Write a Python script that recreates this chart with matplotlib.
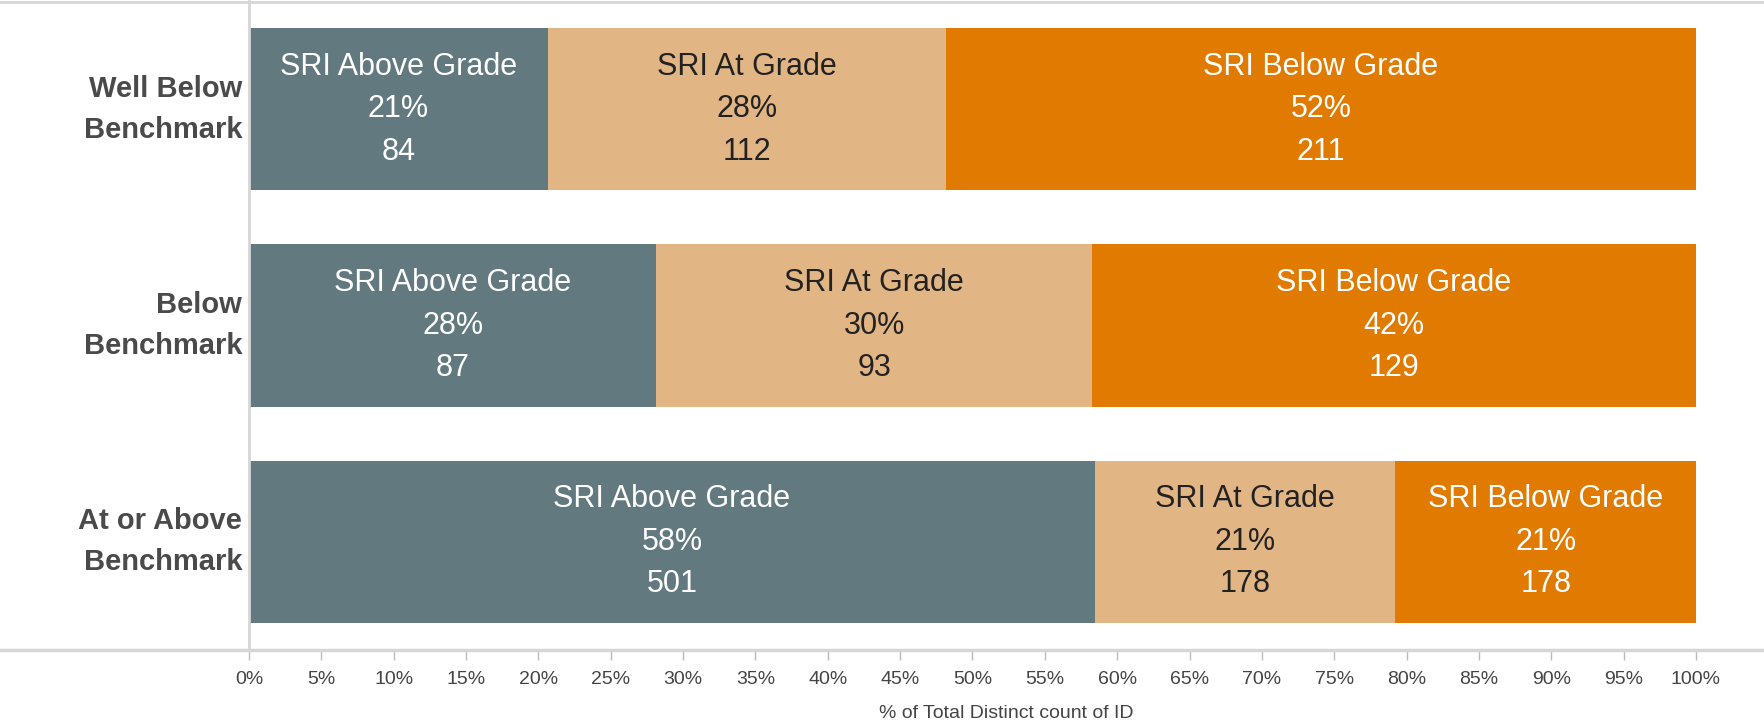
import matplotlib
matplotlib.use("Agg")
import matplotlib.pyplot as plt
from matplotlib.lines import Line2D
import numpy as np

categories = ["Well Below\nBenchmark", "Below\nBenchmark", "At or Above\nBenchmark"]
segments = ["SRI Above Grade", "SRI At Grade", "SRI Below Grade"]
above_counts = [84, 87, 501]
at_counts = [112, 93, 178]
below_counts = [211, 129, 178]
tick_values = list(range(0, 101, 5))
tick_labels = [f"{v}%" for v in tick_values]
x_title = "% of Total Distinct count of ID"

colors = ["#627A7F", "#E2B585", "#E07A00"]
text_colors = ["white", "#222222", "white"]

FONT = ["Liberation Sans Narrow", "Liberation Sans", "DejaVu Sans"]

fig = plt.figure(figsize=(17.64, 7.21), dpi=100)
ax = fig.add_axes([249 / 1764, (721 - 650) / 721, 1515 / 1764, 649 / 721])

counts = np.array([above_counts, at_counts, below_counts], dtype=float)
totals = counts.sum(axis=0)
shares = counts / totals * 100

y = np.arange(len(categories))
left = np.zeros(len(categories))
for i, seg in enumerate(segments):
    ax.barh(y, shares[i], left=left, height=0.75, color=colors[i], edgecolor="none")
    for j in range(len(categories)):
        cx = left[j] + shares[i][j] / 2
        ax.text(cx, y[j], f"{seg}\n{shares[i][j]:.0f}%\n{int(counts[i][j])}",
                ha="center", va="center", color=text_colors[i], fontsize=22,
                family=FONT, linespacing=1.55)
    left += shares[i]

ax.set_xlim(0, 104.7)
ax.set_ylim(2.5, -0.5)
ax.set_yticks(y)
ax.set_yticklabels(categories, family=FONT, fontsize=21, fontweight="bold",
                   color="#4a4a4a", linespacing=1.6, va="center")
ax.tick_params(axis="y", length=0, pad=5)
ax.set_xticks(tick_values)
ax.set_xticklabels(tick_labels, family=FONT, fontsize=14, color="#444444")
ax.tick_params(axis="x", length=7, width=1, color="#bbbbbb", pad=8)
ax.set_xlabel(x_title, family=FONT, fontsize=14, color="#444444", labelpad=12)

for s in ["top", "right", "bottom"]:
    ax.spines[s].set_visible(False)
ax.spines["left"].set_color("#d6d6d6")
ax.spines["left"].set_linewidth(2)

# full-width separator lines (top and bottom)
fig.add_artist(Line2D([0, 1], [1 - 1.5 / 721, 1 - 1.5 / 721], transform=fig.transFigure,
                      color="#d6d6d6", lw=2))
fig.add_artist(Line2D([0, 1], [(721 - 650) / 721, (721 - 650) / 721], transform=fig.transFigure,
                      color="#d6d6d6", lw=2.5))

fig.savefig("out.png", dpi=100, facecolor="white")
